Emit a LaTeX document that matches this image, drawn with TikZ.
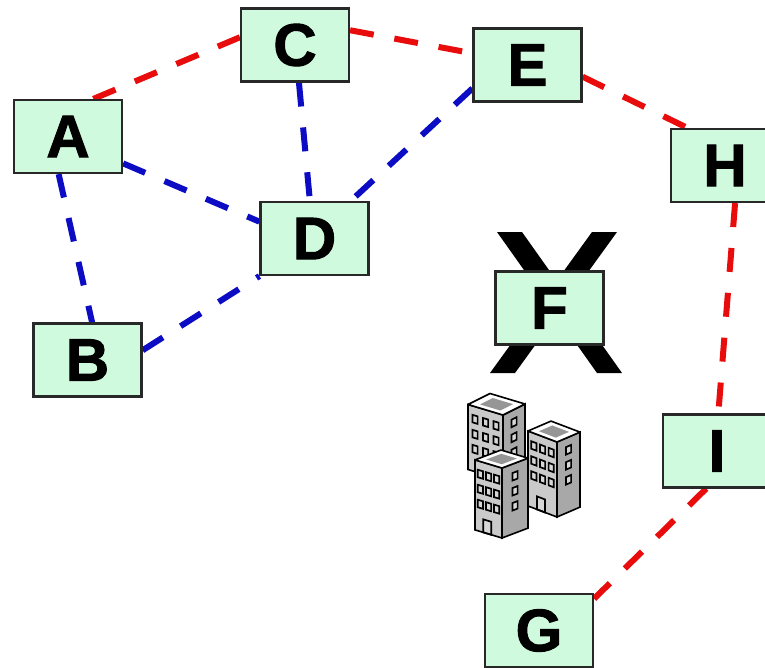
\documentclass[tikz,border=0pt]{standalone}
\usepackage{fontspec}
\setmainfont{Liberation Sans}
\newfontfamily\labelfont{Liberation Sans}[BoldFeatures={FakeBold=1.6}]
\usetikzlibrary{backgrounds}
\definecolor{boxfill}{RGB}{208,250,222}
\definecolor{boxline}{RGB}{40,40,40}
\definecolor{linkred}{RGB}{232,12,12}
\definecolor{linkblue}{RGB}{12,12,196}
\definecolor{towerlight}{RGB}{202,202,202}
\definecolor{towerdark}{RGB}{168,168,168}
\definecolor{towerroof}{RGB}{150,150,150}
\definecolor{towerwin}{RGB}{215,215,215}

% Isometric office tower:
% #1,#2 front bottom corner, #3 left width, #4 right width, #5 height,
% #6 slope of the left face, #7 slope of the right face
\newcommand\tower[7]{%
  \begin{scope}[shift={(#1,#2)}]
    % left face
    \begin{scope}[yslant=-#6]
      \fill[towerlight] (0,0) rectangle (-#3,-#5);
      \foreach \c in {0.2,0.5,0.8}
        \foreach \r in {9,24,39}
          \draw[win] ({-\c*#3-2.6},{-#5+\r}) rectangle ++(5.2,7.5);
      \draw[win] ({-0.55*#3-4},-13) rectangle ++(8,13);
      \draw[line width=1.6pt] (0,0) rectangle (-#3,-#5);
    \end{scope}
    % right face
    \begin{scope}[yslant=#7]
      \fill[towerdark] (0,0) rectangle (#4,-#5);
      \foreach \r in {9,24,39}
        \draw[win] ({0.5*#4-2.6},{-#5+\r}) rectangle ++(5.2,7.5);
      \draw[line width=1.6pt] (0,0) rectangle (#4,-#5);
    \end{scope}
    % roof
    \pgfmathsetmacro\tly{-#5-#3*#6}
    \pgfmathsetmacro\try{-#5-#4*#7}
    \pgfmathsetmacro\bkx{#4-#3}
    \pgfmathsetmacro\bky{-#5-#3*#6-#4*#7}
    \pgfmathsetmacro\cx{(#4-#3)/2}
    \pgfmathsetmacro\cy{-#5-(#3*#6+#4*#7)/2}
    \draw[line width=1.6pt, fill=white, line join=round]
      (0,-#5) -- (-#3,\tly) -- (\bkx,\bky) -- (#4,\try) -- cycle;
    \begin{scope}[shift={(\cx,\cy)}, scale=0.58, shift={(-\cx,-\cy)}]
      \fill[towerroof] (0,-#5) -- (-#3,\tly) -- (\bkx,\bky) -- (#4,\try) -- cycle;
    \end{scope}
  \end{scope}}

\begin{document}
\begin{tikzpicture}[x=1pt, y=-1pt,
  site/.style={draw=boxline, line width=2.2pt, fill=boxfill,
    minimum width=108pt, minimum height=73pt, inner sep=0pt,
    font=\fontsize{60}{60}\labelfont\bfseries},
  ring/.style={draw=linkred, line width=6pt, dash pattern=on 24pt off 21pt},
  mesh/.style={draw=linkblue, line width=6pt, dash pattern=on 24pt off 21pt},
  win/.style={draw=black, line width=1.7pt, fill=towerwin},
  cross/.style={fill=black}]
  \useasboundingbox (0,0) rectangle (765,667);
  \clip (0,0) rectangle (765,667);

  % crossed-out site
  \fill[cross] (497,232) -- (522,232) -- (622,373) -- (597,373) -- cycle;
  \fill[cross] (592,232) -- (617,232) -- (515,373) -- (490,373) -- cycle;

  % sites
  \node[site] (A) at (68,136.5) {A};
  \node[site] (B) at (87.5,360) {B};
  \node[site] (C) at (295,45) {C};
  \node[site] (D) at (314.5,238.5) {D};
  \node[site] (E) at (527.5,65) {E};
  \node[site] (F) at (549.5,308) {F};
  \node[site] (H) at (725,165.5) {H};
  \node[site] (I) at (717,451) {I};
  \node[site] (G) at (539,630.5) {G};

  % links, drawn beneath the sites
  \begin{pgfonlayer}{background}
    \fill[white] (0,0) rectangle (765,667);
    \draw[ring] (A.56) -- (C.172);
    \draw[ring] (C.15) -- (E.168);
    \draw[ring] (E.-12) -- (H.135);
    \draw[ring] (H.-75) -- (I.88);
    \draw[ring] (I.-106) -- (G.30);
    \draw[mesh] (C.-84) -- (D.97);
    \draw[mesh] (E.-157) -- (D.46);
    \draw[mesh] (A.-26) -- (D.163);
    \draw[mesh] (A.-104) -- (B.83);
    \draw[mesh] (B.10) -- (D.south west);
  \end{pgfonlayer}

  % office buildings
  \tower{503}{480}{35}{22}{65}{0.3}{0.5}
  \tower{557}{517}{29}{23}{75}{0.38}{0.43}
  \tower{502}{538}{27}{26}{70}{0.3}{0.38}
\end{tikzpicture}
\end{document}
